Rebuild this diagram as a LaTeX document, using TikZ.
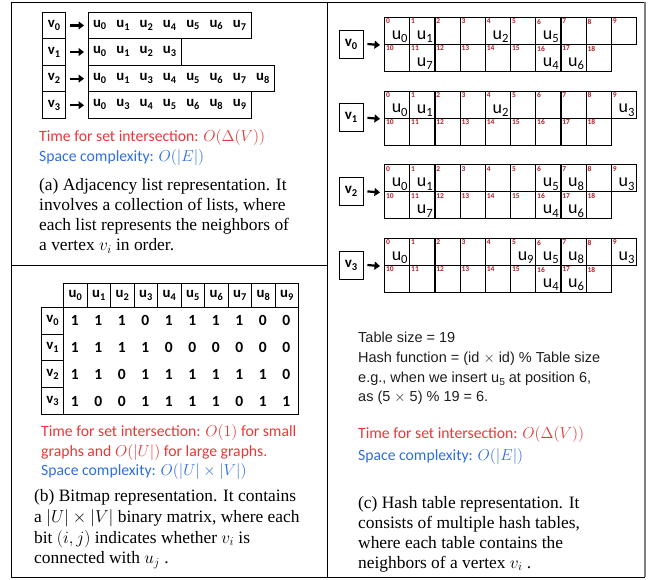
\documentclass[tikz,border=0pt]{standalone}
\usepackage{fontspec}
\setmainfont{Liberation Serif}
\newfontfamily\calib{Carlito}
\newfontfamily\arialf{Liberation Sans}
\usetikzlibrary{arrows.meta}
\definecolor{tred}{RGB}{232,56,56}
\definecolor{tblue}{RGB}{45,110,225}
\definecolor{nred}{RGB}{180,30,40}
\definecolor{htext}{RGB}{30,30,30}
\newcommand\lsub[1]{\raisebox{-0.4ex}{\scalebox{0.7}{#1}}}
\newcommand\mth[1]{\scalebox{1.1}{$#1$}}
\begin{document}
\begin{tikzpicture}[x=1pt,y=-1pt,
  frame/.style={draw=black,line width=0.9pt},
  lbox/.style={draw,line width=0.9pt,inner sep=0pt,anchor=north west},
  etxt/.style={font=\calib\bfseries\fontsize{14.8}{15}\selectfont,inner sep=0pt},
  bitd/.style={font=\calib\bfseries\fontsize{15.5}{16}\selectfont,inner sep=0pt},
  arr/.style={line width=2.2pt,-{Triangle[length=5.5pt,width=8pt]}},
  hcell/.style={draw,line width=1.1pt,inner sep=0pt,anchor=north west,minimum width=25.2pt,minimum height=27pt},
  numst/.style={font=\calib\bfseries\fontsize{7.5}{8}\selectfont,text=nred,anchor=north west,inner sep=1.8pt},
  hent/.style={font=\calib\fontsize{18}{19}\selectfont,anchor=south east,inner xsep=2.5pt,inner ysep=2.2pt},
  hv/.style={draw,line width=0.9pt,inner sep=0pt,minimum width=24pt,minimum height=28pt,font=\calib\bfseries\fontsize{15}{15}\selectfont},
  redl/.style={anchor=base west,inner sep=0pt,font=\calib\fontsize{15.7}{18}\selectfont,text=tred},
  bluel/.style={anchor=base west,inner sep=0pt,font=\calib\fontsize{15.7}{18}\selectfont,text=tblue},
  captxt/.style={anchor=base west,inner sep=0pt,font=\fontsize{17.4}{20}\selectfont},
  htx/.style={anchor=base west,inner sep=0pt,font=\arialf\fontsize{14.5}{18}\selectfont,text=htext}]
\useasboundingbox (0,0) rectangle (651,580);
% frame
\draw[frame] (645,2) -- (11,2) -- (11,577) -- (645,577);
\draw[draw=gray,line width=2.5pt] (645,2) -- (645,577);
\draw[frame] (327,2) -- (327,577);
\draw[frame] (11,265) -- (327,265);

% (a) adjacency list
\foreach \i/\w in {0/163.1,1/93.2,2/186.4,3/163.1}{
  \node[lbox,etxt,minimum width=23pt,minimum height=26.6pt] (v\i) at (42,11.7+26.6*\i) {v\lsub{\i}};
  \node[lbox,minimum width=\w pt,minimum height=26.6pt] (r\i) at (88,11.7+26.6*\i) {};
  \draw[arr] ([xshift=4pt]v\i.east) -- ([xshift=-4pt]r\i.west);
}
\foreach \u [count=\k from 0] in {0,1,2,4,5,6,7} \node[etxt] (r0e\k) at (99.65+23.3*\k,25) {u\lsub{\u}};
\foreach \u [count=\k from 0] in {0,1,2,3} \node[etxt] (r1e\k) at (99.65+23.3*\k,51.6) {u\lsub{\u}};
\foreach \u [count=\k from 0] in {0,1,3,4,5,6,7,8} \node[etxt] (r2e\k) at (99.65+23.3*\k,78.2) {u\lsub{\u}};
\foreach \u [count=\k from 0] in {0,3,4,5,6,8,9} \node[etxt] (r3e\k) at (99.65+23.3*\k,104.8) {u\lsub{\u}};

\node[redl] (ta) at (39,141.7) {Time for set intersection: \mth{O\big(\Delta(V)\big)}};
\node[bluel] (sa) at (39,161.7) {Space complexity: \mth{O(|E|)}};
\node[captxt] (ca1) at (39,190.5) {(a) Adjacency list representation. It};
\node[captxt] (ca2) at (39,210.5) {involves a collection of lists, where};
\node[captxt] (ca3) at (39,230.5) {each list represents the neighbors of};
\node[captxt] (ca4) at (39,250.5) {a vertex $v_i$ in order.};

% (b) bitmap
\foreach \j in {0,...,9}
  \node[lbox,etxt,minimum width=23.5pt,minimum height=23.7pt] (h\j) at (63+23.5*\j,283) {u\lsub{\j}};
\foreach \i in {0,...,3}
  \node[lbox,etxt,minimum width=22pt,minimum height=26.8pt] (b\i) at (41,306.7+26.8*\i) {v\lsub{\i}};
\node[lbox,minimum width=235pt,minimum height=107.2pt] (body) at (63,306.7) {};
\foreach \row [count=\i from 0] in {{1,1,1,0,1,1,1,1,0,0},{1,1,1,1,0,0,0,0,0,0},{1,1,0,1,1,1,1,1,1,0},{1,0,0,1,1,1,1,0,1,1}}{
  \foreach \d [count=\j from 0] in \row
    \node[bitd] (m\i-\j) at (74.75+23.5*\j,320.6+26.8*\i) {\d};
}
\node[redl] (tb1) at (41,436.7) {Time for set intersection: \mth{O(1)} for small};
\node[redl] (tb2) at (41,456.7) {graphs and \mth{O(|U|)} for large graphs.};
\node[bluel] (sb) at (41,475.7) {Space complexity: \mth{O(|U|\times|V|)}};
\node[captxt] (cb1) at (34,501.5) {(b) Bitmap representation. It contains};
\node[captxt] (cb2) at (34,522) {a $|U|\times|V|$ binary matrix, where each};
\node[captxt] (cb3) at (34,543) {bit $(i,j)$ indicates whether $v_i$ is};
\node[captxt] (cb4) at (34,563.5) {connected with $u_j$ .};

% (c) hash tables
\foreach \t/\ty in {0/17,1/90.8,2/164.4,3/238}{
  \foreach \c in {0,...,9}{
    \node[hcell] (t\t c\c) at (384+25.2*\c,\ty) {};
    \node[numst] (t\t n\c) at (t\t c\c.north west) {\c};
  }
  \foreach \c in {10,...,18}{
    \node[hcell] (t\t c\c) at (384+25.2*\c-252,\ty+27) {};
    \node[numst] (t\t n\c) at (t\t c\c.north west) {\c};
  }
  \node[hv] (hv\t) at (351,\ty+27) {v\lsub{\t}};
  \draw[arr] ([xshift=4pt]hv\t.east) -- ([xshift=-4pt]t\t c0.south west);
}
\foreach \c/\u in {0/0,1/1,4/2,6/5,11/7,16/4,17/6}
  \node[hent] (e0-\c) at (t0c\c.south east) {u\lsub{\u}};
\foreach \c/\u in {0/0,1/1,4/2,9/3}
  \node[hent] (e1-\c) at (t1c\c.south east) {u\lsub{\u}};
\foreach \c/\u in {0/0,1/1,6/5,7/8,9/3,11/7,16/4,17/6}
  \node[hent] (e2-\c) at (t2c\c.south east) {u\lsub{\u}};
\foreach \c/\u in {0/0,5/9,6/5,7/8,9/3,16/4,17/6}
  \node[hent] (e3-\c) at (t3c\c.south east) {u\lsub{\u}};

\node[htx] (hx1) at (358,342.3) {Table size = 19};
\node[htx] (hx2) at (358,362.5) {Hash function = (id $\times$ id) \% Table size};
\node[htx] (hx3) at (358,382.5) {e.g., when we insert u\lsub{5} at position 6,};
\node[htx] (hx4) at (358,401.7) {as (5 $\times$ 5) \% 19 = 6.};
\node[redl] (tc) at (358,438.3) {Time for set intersection: \mth{O\big(\Delta(V)\big)}};
\node[bluel] (sc) at (358,460) {Space complexity: \mth{O(|E|)}};
\node[captxt] (cc1) at (358,508.3) {(c) Hash table representation. It};
\node[captxt] (cc2) at (358,528.3) {consists of multiple hash tables,};
\node[captxt] (cc3) at (358,548.3) {where each table contains the};
\node[captxt] (cc4) at (358,568.3) {neighbors of a vertex $v_i$ .};
\end{tikzpicture}
\end{document}
